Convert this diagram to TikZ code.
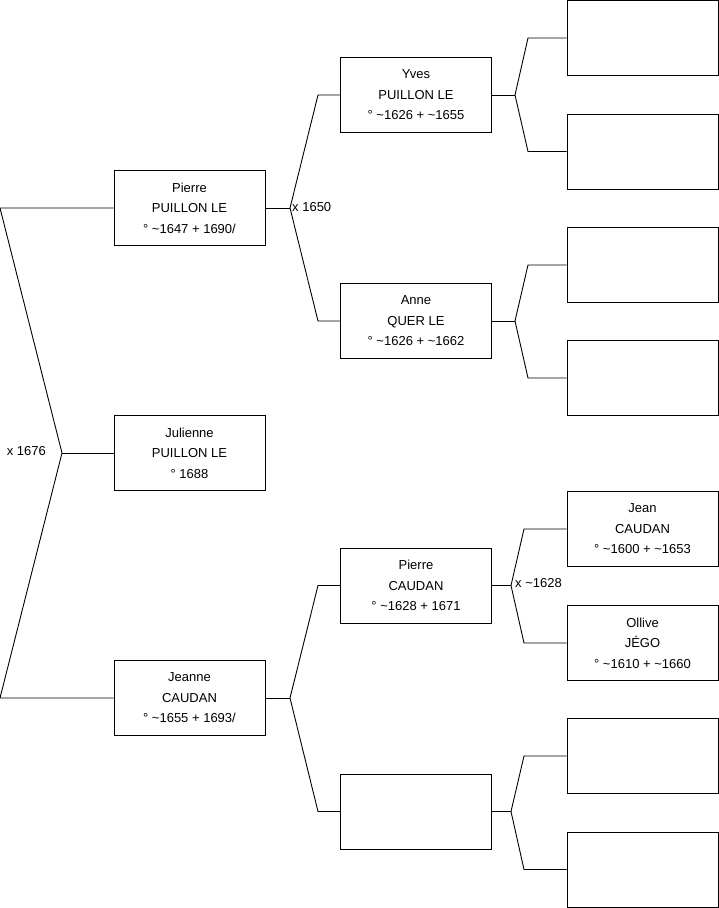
\documentclass[tikz,border=0pt]{standalone}
\usepackage{fontspec}
\setmainfont{Liberation Sans}
\usetikzlibrary{positioning}

\begin{document}
\begin{tikzpicture}[
    x=1pt, y=-1pt,
    person/.style={draw=black, line width=0.9pt, fill=white,
                   minimum width=151pt, minimum height=75pt, inner sep=0pt,
                   align=center, font=\fontsize{13}{20.5}\selectfont},
    union/.style={font=\fontsize{13}{15}\selectfont, inner sep=1pt},
    branch/.style={draw=black, line width=0.9pt}
]
    \useasboundingbox (0,0) rectangle (719,908);

    % Generation 1
    \node[person] (pierre) at (189.5,208) {Pierre\\PUILLON LE\\° \textasciitilde1647 + 1690/};
    \node[person] (julienne) at (189.5,453) {Julienne\\PUILLON LE\\° 1688};
    \node[person] (jeanne) at (189.5,698) {Jeanne\\CAUDAN\\° \textasciitilde1655 + 1693/};

    % Generation 2
    \node[person] (yves) at (416,95) {Yves\\PUILLON LE\\° \textasciitilde1626 + \textasciitilde1655};
    \node[person] (anne) at (416,321) {Anne\\QUER LE\\° \textasciitilde1626 + \textasciitilde1662};
    \node[person] (pierreC) at (416,585.5) {Pierre\\CAUDAN\\° \textasciitilde1628 + 1671};
    \node[person] (mereC) at (416,811.5) {};

    % Generation 3
    \node[person] (pereY) at (642.5,38) {};
    \node[person] (mereY) at (642.5,151.5) {};
    \node[person] (pereA) at (642.5,265) {};
    \node[person] (mereA) at (642.5,378) {};
    \node[person] (jean) at (642.5,529) {Jean\\CAUDAN\\° \textasciitilde1600 + \textasciitilde1653};
    \node[person] (ollive) at (642.5,643) {Ollive\\JÉGO\\° \textasciitilde1610 + \textasciitilde1660};
    \node[person] (pereM) at (642.5,756) {};
    \node[person] (mereM) at (642.5,869.5) {};

    % Bracket points
    \coordinate (u0) at (62,453);
    \coordinate (u0a) at (0,208);
    \coordinate (u0b) at (0,698);
    \coordinate (u1) at (290,208);
    \coordinate (u1a) at (318,95);
    \coordinate (u1b) at (318,321);
    \coordinate (u2) at (290,698);
    \coordinate (u2a) at (318,585.5);
    \coordinate (u2b) at (318,811.5);
    \coordinate (u3) at (515,95);
    \coordinate (u3a) at (528,38);
    \coordinate (u3b) at (528,151.5);
    \coordinate (u4) at (515,321);
    \coordinate (u4a) at (528,265);
    \coordinate (u4b) at (528,378);
    \coordinate (u5) at (511,585.5);
    \coordinate (u5a) at (524,529);
    \coordinate (u5b) at (524,643);
    \coordinate (u6) at (511,811.5);
    \coordinate (u6a) at (524,756);
    \coordinate (u6b) at (524,869.5);

    % Lines
    \draw[branch] (pierre.west) -- (u0a) -- (u0) -- (u0b) -- (jeanne.west);
    \draw[branch] (u0) -- (julienne.west);
    \draw[branch] (pierre.east) -- (u1);
    \draw[branch] (yves.west) -- (u1a) -- (u1) -- (u1b) -- (anne.west);
    \draw[branch] (jeanne.east) -- (u2);
    \draw[branch] (pierreC.west) -- (u2a) -- (u2) -- (u2b) -- (mereC.west);
    \draw[branch] (yves.east) -- (u3);
    \draw[branch] (pereY.west) -- (u3a) -- (u3) -- (u3b) -- (mereY.west);
    \draw[branch] (anne.east) -- (u4);
    \draw[branch] (pereA.west) -- (u4a) -- (u4) -- (u4b) -- (mereA.west);
    \draw[branch] (pierreC.east) -- (u5);
    \draw[branch] (jean.west) -- (u5a) -- (u5) -- (u5b) -- (ollive.west);
    \draw[branch] (mereC.east) -- (u6);
    \draw[branch] (pereM.west) -- (u6a) -- (u6) -- (u6b) -- (mereM.west);

    % Marriages
    \node[union, anchor=east] (m0) at (47,451) {x 1676};
    \node[union, anchor=west] (m1) at (291,207) {x 1650};
    \node[union, anchor=west] (m5) at (514,583) {x \textasciitilde1628};
\end{tikzpicture}
\end{document}
